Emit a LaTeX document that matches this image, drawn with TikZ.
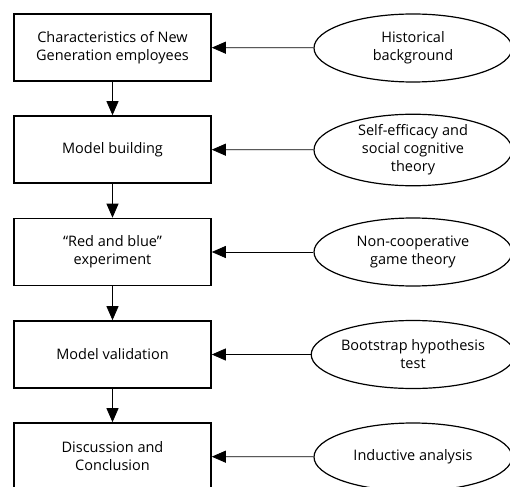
\documentclass[tikz,border=0pt]{standalone}
\usepackage{fontspec}
\setmainfont{Open Sans}
\usetikzlibrary{shapes.geometric,arrows.meta}

\begin{document}
\begin{tikzpicture}[
        x = 1pt, y = -1pt,
        font = \fontsize{14.5}{18}\selectfont,
        stepbox/.style = {draw, line width=1.6pt, minimum width=197pt, minimum height=67pt, align=center, inner sep=0pt},
        theory/.style = {ellipse, draw, line width=1.2pt, minimum width=198pt, minimum height=68pt, align=center, inner sep=0pt},
        flow/.style = {-{Triangle[length=14pt, width=12pt]}, line width=0.8pt}
    ]

    \clip (0, 0) rectangle (510, 486);

    \node[stepbox] (1) at (112.5, 47.5) {Characteristics of New\\Generation employees};
    \node[stepbox] (2) at (112.5, 149.5) {Model building};
    \node[stepbox] (3) at (112.5, 252) {“Red and blue”\\experiment};
    \node[stepbox] (4) at (112.5, 354.5) {Model validation};
    \node[stepbox] (5) at (112.5, 456.5) {Discussion and\\Conclusion};

    \node[theory] (a) at (413, 48) {Historical\\background};
    \node[theory] (b) at (413, 150) {Self-efficacy and\\social cognitive\\theory};
    \node[theory] (c) at (413, 252) {Non-cooperative\\game theory};
    \node[theory] (d) at (413, 354.5) {Bootstrap hypothesis\\test};
    \node[theory] (e) at (413, 457) {Inductive analysis};

    \draw[flow] (1) -- (2);
    \draw[flow] (2) -- (3);
    \draw[flow] (3) -- (4);
    \draw[flow] (4) -- (5);

    \draw[flow] (a) -- (1);
    \draw[flow] (b) -- (2);
    \draw[flow] (c) -- (3);
    \draw[flow] (d) -- (4);
    \draw[flow] (e) -- (5);
\end{tikzpicture}
\end{document}
